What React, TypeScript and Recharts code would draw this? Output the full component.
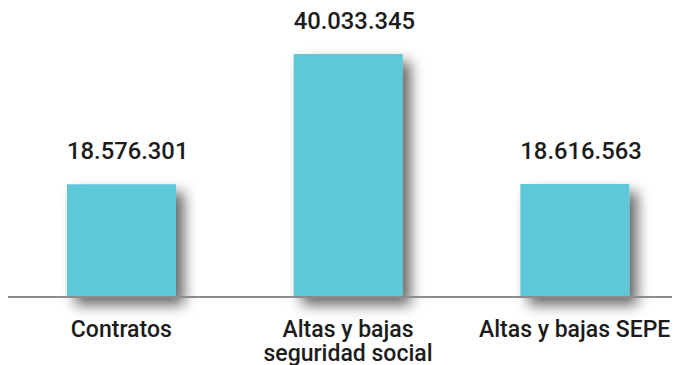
import { BarChart, Bar, XAxis, YAxis, LabelList } from 'recharts'

const categorias = ['Contratos', 'Altas y bajas\nseguridad social', 'Altas y bajas SEPE']
const valores = [18576301, 40033345, 18616563]

const datos = categorias.map((nombre, i) => ({ nombre, valor: valores[i] }))
const maximo = Math.max(...valores)

const FUENTE = 'Roboto, "Liberation Sans", Arial, sans-serif'

function formatoMiles(v: number) {
  return String(v).replace(/\B(?=(\d{3})+(?!\d))/g, '.')
}

function TickCategoria(props: any) {
  const { x, y, payload } = props
  const lineas = String(payload.value).split('\n')
  return (
    <g>
      {lineas.map((l, i) => (
        <text key={i} x={x} y={y + 40 + i * 23.5} textAnchor="middle" fill="#1c1c1c"
          fontFamily={FUENTE} fontSize={23} fontWeight={500}>
          {l}
        </text>
      ))}
    </g>
  )
}

// el valor va alineado con el borde izquierdo de la barra
function EtiquetaValor(props: any) {
  const { x, y, value } = props
  return (
    <text x={x} y={y - 25} textAnchor="start" fill="#1c1c1c" fontFamily={FUENTE} fontSize={23.8} fontWeight={500}>
      {formatoMiles(Number(value))}
    </text>
  )
}

export default function App() {
  return (
    <div style={{ width: 680, height: 357, background: '#fff' }}>
      <BarChart width={680} height={357} data={datos} margin={{ top: 46, right: 0, left: 0, bottom: 0 }}>
        <defs>
          <filter id="sombra" x="-40%" y="-40%" width="180%" height="180%">
            <feDropShadow dx={8} dy={8} stdDeviation={7} floodColor="#000" floodOpacity={0.6} />
          </filter>
        </defs>
        <YAxis hide domain={[0, maximo]} />
        <Bar dataKey="valor" fill="#5ec8d8" barSize={109} isAnimationActive={false} filter="url(#sombra)">
          <LabelList dataKey="valor" content={<EtiquetaValor />} />
        </Bar>
        <XAxis
          dataKey="nombre"
          height={68}
          tickLine={false}
          tickSize={0}
          tickMargin={0}
          interval={0}
          axisLine={{ stroke: '#8c8c8c', strokeWidth: 2 }}
          tick={<TickCategoria />}
        />
      </BarChart>
    </div>
  )
}
